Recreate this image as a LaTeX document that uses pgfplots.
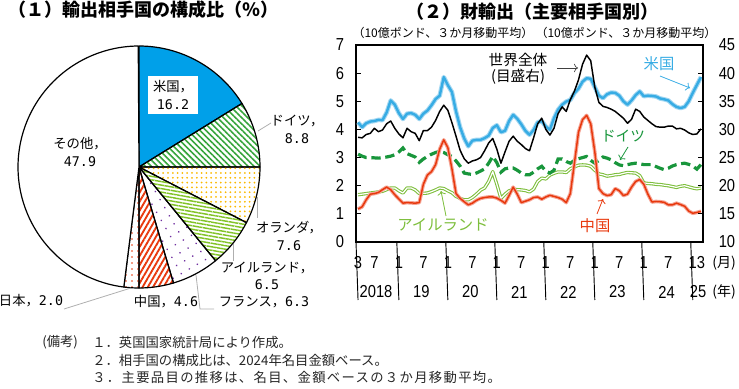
\documentclass[border=0pt]{standalone}
\usepackage{fontspec}
\setmainfont{Noto Sans CJK JP}
\newfontfamily\tickfont[FakeStretch=0.85]{Liberation Sans}
\newfontfamily\pmono{DejaVu Sans Mono}
\usepackage{pgfplots}
\usepackage{pgfplotstable}
\pgfplotsset{compat=1.18}
\usetikzlibrary{patterns.meta,arrows.meta}

\definecolor{usblue}{RGB}{55,172,228}
\definecolor{usglow}{RGB}{165,216,242}
\definecolor{degreen}{RGB}{25,150,60}
\definecolor{iegreen}{RGB}{125,190,60}
\definecolor{cnred}{RGB}{232,56,13}
\definecolor{cnglow}{RGB}{245,165,150}
\definecolor{piecyan}{RGB}{0,160,233}
\definecolor{piegreen}{RGB}{55,165,60}
\definecolor{pieyellow}{RGB}{250,185,0}
\definecolor{pielgreen}{RGB}{130,195,40}
\definecolor{piepurple}{RGB}{112,48,160}
\definecolor{piered}{RGB}{232,56,13}
\definecolor{leader}{RGB}{175,175,175}

\newcommand{\pn}[1]{{\pmono #1}}

% month index m: 0 = 2018-03 ... 84 = 2025-03
% us, de, ie, cn: left axis (bn GBP); w: world, right axis
\pgfplotstableread{
m us de ie cn w
0 4.25 3.12 1.68 1.17 28.6
1 4.08 3.05 1.70 1.25 28.5
2 4.22 3.00 1.72 1.50 29.1
3 4.28 3.00 1.74 1.70 29.3
4 4.30 2.99 1.76 1.72 30.2
5 4.34 2.98 1.78 1.76 29.6
6 4.33 3.00 1.80 1.86 29.9
7 4.60 3.02 1.86 1.95 31.0
8 5.03 3.05 1.92 1.86 31.5
9 4.88 3.10 1.92 1.68 30.2
10 4.58 3.20 1.82 1.53 29.2
11 4.37 3.34 1.74 1.38 28.5
12 4.56 3.14 1.92 1.40 30.2
13 4.58 3.08 1.92 1.39 29.6
14 4.52 3.02 1.85 1.38 29.3
15 4.37 2.83 1.72 1.40 28.0
16 4.56 2.95 1.73 2.05 29.8
17 4.67 3.04 1.74 2.38 29.8
18 4.86 3.12 1.79 2.50 30.4
19 5.08 3.18 1.85 2.75 31.6
20 5.20 3.22 1.92 3.30 33.2
21 5.86 3.18 1.90 3.63 34.3
22 5.57 3.10 1.82 3.35 33.4
23 5.33 3.04 1.75 2.60 31.2
24 4.64 2.88 1.62 1.72 28.8
25 4.08 2.70 1.55 1.55 26.3
26 3.68 2.45 1.50 1.43 24.8
27 3.40 2.42 1.50 1.32 24.0
28 3.60 2.40 1.58 1.38 24.4
29 3.63 2.45 1.70 1.48 24.6
30 3.63 2.52 1.84 1.55 25.0
31 3.69 2.60 1.92 1.58 26.2
32 3.78 2.80 2.15 1.60 27.6
33 4.05 3.04 2.50 1.60 28.4
34 4.15 2.82 2.05 1.56 26.5
35 3.90 2.48 1.55 1.48 24.0
36 3.95 2.60 1.70 1.38 26.0
37 4.30 2.63 1.82 1.65 27.9
38 4.52 2.63 1.86 1.95 28.8
39 4.38 2.55 1.86 1.70 27.9
40 4.18 2.45 1.85 1.40 27.3
41 3.95 2.39 1.83 1.45 26.6
42 3.81 2.39 1.78 1.50 26.2
43 3.98 2.48 1.88 1.58 28.5
44 4.25 2.60 2.15 1.60 31.0
45 4.30 2.69 2.27 1.52 32.0
46 4.10 2.52 2.24 1.60 30.0
47 3.99 2.45 2.38 1.66 29.0
48 4.40 2.55 2.44 1.62 30.2
49 4.70 2.95 2.49 1.58 32.8
50 4.88 2.95 2.49 1.52 34.0
51 4.99 2.86 2.47 1.40 33.2
52 5.05 2.80 2.60 1.72 35.3
53 5.29 2.90 2.67 2.80 36.8
54 5.45 2.96 2.73 3.90 38.8
55 5.70 3.00 2.74 4.35 41.6
56 5.82 3.04 2.73 4.50 43.2
57 5.80 2.90 2.69 4.20 42.2
58 5.50 2.80 2.55 3.20 37.5
59 5.20 2.90 2.42 1.90 34.8
60 5.11 3.02 2.39 1.72 34.1
61 5.25 2.98 2.34 1.65 33.9
62 5.31 2.92 2.36 1.68 33.6
63 5.30 2.82 2.39 1.90 33.2
64 5.20 2.74 2.40 1.82 32.6
65 5.00 2.71 2.44 1.65 32.0
66 4.88 2.75 2.47 1.70 31.1
67 5.03 2.78 2.46 1.95 31.8
68 5.22 2.80 2.45 2.15 33.6
69 5.35 2.78 2.36 2.22 33.2
70 5.18 2.75 2.10 2.05 32.2
71 5.20 2.75 2.08 1.70 31.6
72 5.19 2.75 2.07 1.42 31.0
73 5.17 2.68 2.05 1.44 30.5
74 5.10 2.62 2.04 1.43 30.4
75 5.07 2.57 2.02 1.41 30.4
76 5.03 2.62 2.00 1.32 30.6
77 4.90 2.70 1.97 1.32 30.6
78 4.80 2.75 1.94 1.38 30.1
79 4.76 2.78 1.98 1.33 30.2
80 4.80 2.80 2.00 1.27 29.9
81 5.00 2.76 1.96 1.10 29.4
82 5.30 2.70 1.92 1.02 29.1
83 5.58 2.59 1.89 1.05 29.2
84 5.86 2.75 1.92 1.09 30.1
}\trade

\pgfplotsset{
  chartbox/.style={
    at={(267pt,110.25pt)}, anchor=south west, scale only axis,
    width=260.25pt, height=147.75pt, xmin=-0.5, xmax=84.5,
    clip=false, axis line style={line width=1.8pt},
    tick align=inside, major tick length=4pt,
    tick style={line width=0.7pt, black},
    /pgf/number format/assume math mode=true,
  },
  slice/.style={draw=black, line width=0.9pt, line join=round, variable=\t},
}

\begin{document}
\begin{tikzpicture}
\path[use as bounding box] (0,0) rectangle (554.25pt,291.75pt);

% ---------------- pie (shares in %): US 16.2, DE 8.8, NL 7.6, IE 6.5, FR 6.3, CN 4.6, JP 2.0, other 47.9
\begin{axis}[at={(13.5pt,75.75pt)}, anchor=south west, scale only axis,
  width=181.5pt, height=181.5pt, hide axis, xmin=-1, xmax=1, ymin=-1, ymax=1, clip=false]
\addplot[slice, fill=piecyan, domain=31.68:90, samples=30] ({cos(\t)},{sin(\t)}) -- (axis cs:0,0) -- cycle;
\addplot[slice, pattern={Lines[angle=-45,distance=3.2pt,line width=1.2pt]}, pattern color=piegreen, domain=0:31.68, samples=20] ({cos(\t)},{sin(\t)}) -- (axis cs:0,0) -- cycle;
\addplot[slice, pattern={Dots[distance=3.6pt,radius=0.75pt]}, pattern color=pieyellow, domain=-27.36:0, samples=20] ({cos(\t)},{sin(\t)}) -- (axis cs:0,0) -- cycle;
\addplot[slice, pattern={Lines[angle=-10,distance=2.6pt,line width=1.1pt]}, pattern color=pielgreen, domain=-50.76:-27.36, samples=20] ({cos(\t)},{sin(\t)}) -- (axis cs:0,0) -- cycle;
\addplot[slice, pattern={Dots[distance=7pt,radius=0.7pt,angle=30]}, pattern color=piepurple, domain=-73.44:-50.76, samples=20] ({cos(\t)},{sin(\t)}) -- (axis cs:0,0) -- cycle;
\addplot[slice, pattern={Lines[angle=60,distance=3.4pt,line width=1.4pt]}, pattern color=piered, domain=-90:-73.44, samples=15] ({cos(\t)},{sin(\t)}) -- (axis cs:0,0) -- cycle;
\addplot[slice, pattern={Dots[distance=4.5pt,radius=0.7pt]}, pattern color=piered, domain=-97.2:-90, samples=8] ({cos(\t)},{sin(\t)}) -- (axis cs:0,0) -- cycle;
\addplot[slice, fill=white, domain=-269.64:-97.2, samples=90] ({cos(\t)},{sin(\t)}) -- (axis cs:0,0) -- cycle;
\end{axis}

% ---------------- line chart, left axis
\begin{axis}[chartbox, ymin=0, ymax=7, ytick={0,...,7}, ytick pos=left,
  yticklabel style={font=\tickfont\fontsize{13}{13}\selectfont, anchor=center, xshift=-12pt},
  xtick={0,4,10,16,22,28,34,40,46,52,58,64,70,76,82,84},
  xticklabels={3,7,1,7,1,7,1,7,1,7,1,7,1,7,1,3},
  xtick style={draw=none},
  xticklabel style={font=\tickfont\fontsize{13}{13}\selectfont, anchor=center, yshift=-15.75pt}]
\addplot[iegreen, line width=2.5pt, line join=round] table[x=m,y=ie]{\trade};
\addplot[white, line width=0.9pt, line join=round] table[x=m,y=ie]{\trade};
\addplot[degreen, line width=2.4pt, dash pattern=on 7pt off 3.5pt] table[x=m,y=de]{\trade};
\addplot[cnglow, line width=2.7pt, line join=round] table[x=m,y=cn]{\trade};
\addplot[cnred, line width=1.1pt, line join=round] table[x=m,y=cn]{\trade};
\addplot[usglow, line width=3.4pt, line join=round] table[x=m,y=us]{\trade};
\addplot[usblue, line width=1.8pt, line join=round] table[x=m,y=us]{\trade};
\pgfplotsinvokeforeach{-0.5,9.5,21.5,33.5,45.5,57.5,69.5,81.5}{
  \draw[line width=0.7pt] (axis cs:#1,0) -- ++(0,-43.5pt);}
\begin{scope}[every node/.style={font=\tickfont\fontsize{13}{13}\selectfont}]
\node at ([yshift=-37.5pt]axis cs:4.4,0) {2018};
\node at ([yshift=-37.5pt]axis cs:15.5,0) {19};
\node at ([yshift=-37.5pt]axis cs:27.5,0) {20};
\node at ([yshift=-37.5pt]axis cs:39.5,0) {21};
\node at ([yshift=-37.5pt]axis cs:51.5,0) {22};
\node at ([yshift=-37.5pt]axis cs:63.5,0) {23};
\node at ([yshift=-37.5pt]axis cs:75.6,0) {24};
\node at ([yshift=-37.5pt]axis cs:83.3,0) {25};
\end{scope}
\end{axis}

% ---------------- right axis (world)
\begin{axis}[chartbox, ymin=10, ymax=45, ytick={10,15,...,45},
  axis x line=none, axis y line*=right,
  yticklabel style={font=\tickfont\fontsize{13}{13}\selectfont, anchor=center, xshift=18pt}]
\addplot[black, line width=1.1pt, line join=round] table[x=m,y=w]{\trade};
\end{axis}

% ---------------- texts (pixel coordinates, origin top-left)
\begin{scope}[shift={(0,291.75pt)}, x=0.75pt, y=-0.75pt]
\node[font=\fontsize{13.5}{14}\selectfont\bfseries] at (143,10) {（１）輸出相手国の構成比（％）};
\node[font=\fontsize{13.5}{14}\selectfont\bfseries] at (532,12) {（２）財輸出（主要相手国別）};
\node[font=\fontsize{9}{10}\selectfont] at (443,33) {（10億ポンド、３か月移動平均）};
\node[font=\fontsize{9}{10}\selectfont] at (626,33) {（10億ポンド、３か月移動平均）};

% pie labels
\begin{scope}[every node/.style={font=\fontsize{10}{13.5}\selectfont, align=center}]
\node[fill=white, inner xsep=4pt, inner ysep=3pt] at (173,95) {米国，\\\pn{16.2}};
\node at (297,129) {ドイツ，\\\pn{8.8}};
\node at (289,236) {オランダ，\\\pn{7.6}};
\node[font=\fontsize{10}{12.3}\selectfont] at (267,276) {アイルランド，\\\pn{6.5}};
\node at (264,302) {フランス，\pn{6.3}};
\node at (166,302) {中国，\pn{4.6}};
\node at (31,301) {日本，\pn{2.0}};
\node at (80,152) {その他，\\\pn{47.9}};
\end{scope}
\draw[leader, line width=0.6pt] (258,131) -- (271,123);
\draw[leader, line width=0.6pt] (257,197) -- (257,218);
\draw[leader, line width=0.6pt] (233,244) -- (233,261);
\draw[leader, line width=0.6pt] (196,275) -- (200,309) -- (214,309);
\draw[leader, line width=0.6pt] (131,288) -- (64,309);

% chart annotations
\node[font=\fontsize{11}{12}\selectfont] at (518,60) {世界全体};
\node[font=\fontsize{11}{12}\selectfont] at (518,77) {(目盛右)};
\draw[-{To[length=3pt]}, black!75, line width=0.5pt] (557,68) -- (578,68);
\node[font=\fontsize{11.5}{12}\selectfont, text=usblue] at (659,64) {米国};
\draw[-{To[length=3pt]}, usblue, line width=0.6pt] (660,76) -- (690,88);
\node[font=\fontsize{11}{12}\selectfont, text=degreen] at (623,136) {ドイツ};
\draw[-{To[length=3pt]}, degreen, line width=0.6pt] (628,147) -- (620,160);
\node[font=\fontsize{11.5}{12}\selectfont, text=iegreen] at (443,225) {アイルランド};
\draw[-{To[length=3pt]}, iegreen, line width=0.6pt] (446,216) -- (441,191);
\node[font=\fontsize{11.5}{12}\selectfont, text=cnred] at (595,226) {中国};
\draw[-{To[length=3pt]}, cnred, line width=0.6pt] (597,214) -- (603,199);
\node[font=\fontsize{10.5}{12}\selectfont] at (724,263) {(月)};
\node[font=\fontsize{10.5}{12}\selectfont] at (724,292) {(年)};

% notes
\begin{scope}[every node/.style={anchor=west, inner sep=0pt, font=\fontsize{10}{11}\selectfont, text=black!85}]
\node at (42,342) {(備考)};
\node at (92,342) {１．英国国家統計局により作成。};
\node at (92,360) {２．相手国の構成比は、2024年名目金額ベース。};
\node at (92,377) {\addfontfeature{LetterSpace=10}３．主要品目の推移は、名目、金額ベースの３か月移動平均。};
\end{scope}
\end{scope}
\end{tikzpicture}
\end{document}
